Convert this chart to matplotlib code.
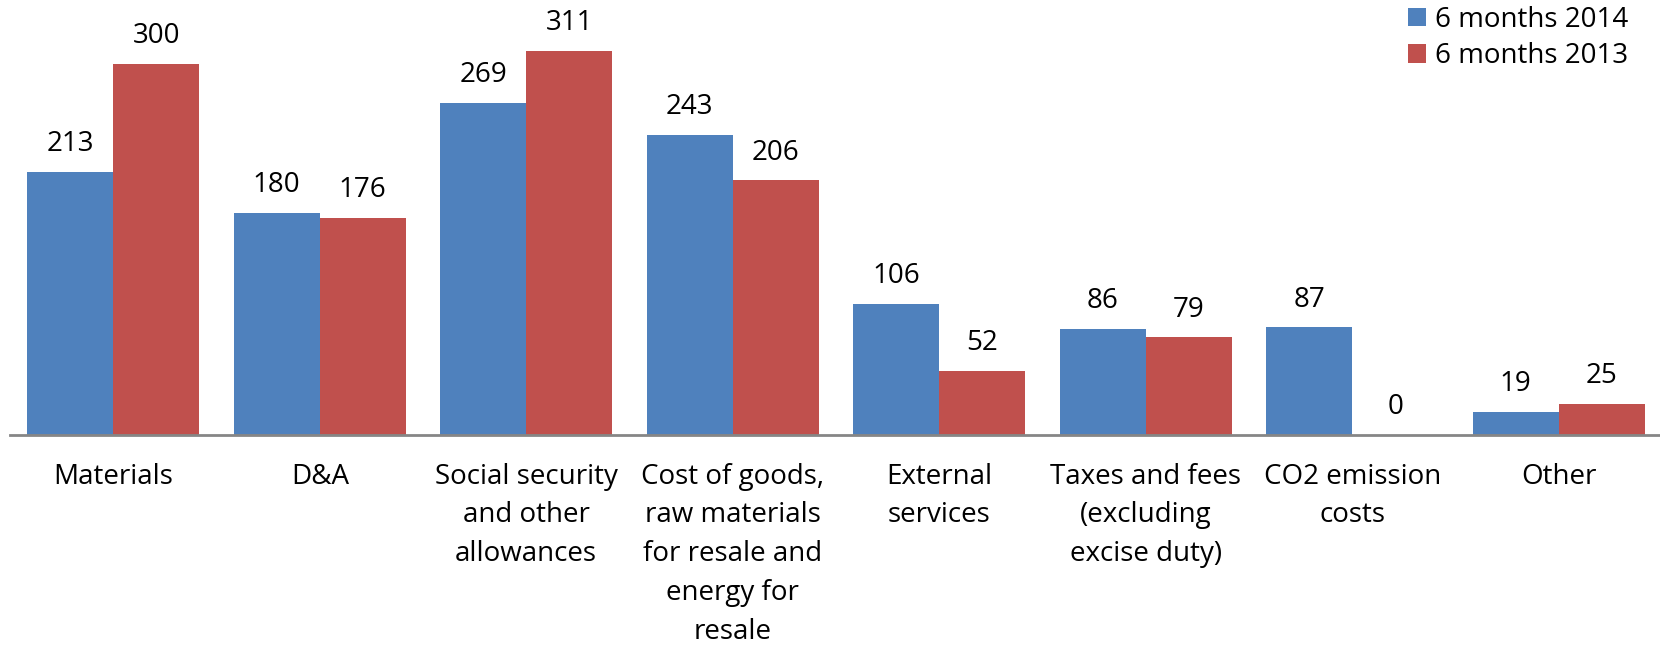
import numpy as np
import matplotlib
matplotlib.use("Agg")
import matplotlib.pyplot as plt

categories = ["Materials", "D&A", "Social security\nand other\nallowances",
              "Cost of goods,\nraw materials\nfor resale and\nenergy for\nresale",
              "External\nservices", "Taxes and fees\n(excluding\nexcise duty)",
              "CO2 emission\ncosts", "Other"]
h1_2014 = [213, 180, 269, 243, 106, 86, 87, 19]
h1_2013 = [300, 176, 311, 206, 52, 79, 0, 25]
series_names = ["6 months 2014", "6 months 2013"]

plt.rcParams['font.family'] = ['Open Sans', 'DejaVu Sans']

fig = plt.figure(figsize=(16.6, 6.47), dpi=100)
ax = fig.add_axes([10 / 1660, 212 / 647, 1652 / 1660, 435 / 647])

x = np.arange(len(categories))
w = 0.4165
b1 = ax.bar(x - w / 2, h1_2014, w, color="#4F81BD", label=series_names[0])
b2 = ax.bar(x + w / 2, h1_2013, w, color="#C0504D", label=series_names[1])

# value labels above each bar
for bars, vals in ((b1, h1_2014), (b2, h1_2013)):
    for rect, v in zip(bars, vals):
        ax.annotate(str(v), (rect.get_x() + rect.get_width() / 2, v),
                    xytext=(0, 15), textcoords="offset points",
                    ha="center", va="baseline", fontsize=20)

ax.set_xlim(-0.5, len(categories) - 0.5)
ax.set_ylim(0, 352)
ax.set_xticks(x)
ax.set_xticklabels(categories, fontsize=20, linespacing=1.51)
ax.tick_params(axis="x", length=0, pad=20)
ax.set_yticks([])
for s in ("top", "right", "left"):
    ax.spines[s].set_visible(False)
ax.spines["bottom"].set_color("#868686")
ax.spines["bottom"].set_linewidth(2)

ax.legend(loc="upper right", bbox_to_anchor=(0.981, 0.993), frameon=False,
          fontsize=20, handlelength=0.65, handleheight=0.65, handletextpad=0.3,
          labelspacing=0.3, borderaxespad=0, borderpad=0.1)

fig.savefig("out.png", dpi=100)
